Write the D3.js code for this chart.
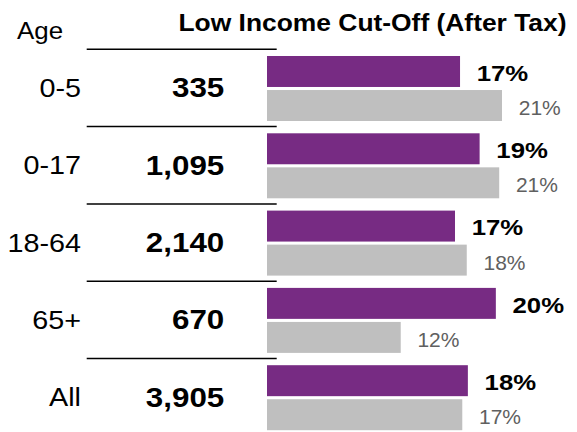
<!DOCTYPE html>
<html>
<head>
<meta charset="utf-8">
<script src="https://cdn.jsdelivr.net/npm/d3@7"></script>
<style>
  body { margin: 0; background: #fff; }
  text { font-family: "Liberation Sans", Arial, sans-serif; }
</style>
</head>
<body>
<div id="container"></div>
<script>
/* DATA */
const ages = ["0-5", "0-17", "18-64", "65+", "All"]
const counts = [335, 1095, 2140, 670, 3905]
// purple bars: low income cut-off (after tax) rate, %
const licoRates = [17.25, 19.0, 16.8, 20.45, 17.95]
// grey bars: comparison rate, %
const compareRates = [21.0, 20.75, 17.85, 11.95, 17.45]

const titleText = "Low Income Cut-Off (After Tax)"
const headerText = "Age"

/* CONSTANTS */
const width = 577,
  height = 432

const purple = "#772B83"
const grey = "#BFBFBF"

const rows = ages.map((a, i) => ({
  age: a,
  count: counts[i],
  lico: licoRates[i],
  compare: compareRates[i]
}))

const svg = d3.select("#container")
  .append("svg")
  .attr("width", width)
  .attr("height", height)

// + SCALES
const yScale = d3.scaleBand()
  .domain(ages)
  .range([49.3, 49.3 + 77.3 * ages.length])

const subScale = d3.scaleBand()
  .domain(["lico", "compare"])
  .range([6.7, 71.7])
  .paddingInner(0.09)

const xScale = d3.scaleLinear()
  .domain([0, 21])
  .range([267, 502])

const fmtCount = d3.format(",")
const fmtPct = d => d3.format(".0f")(d) + "%"

// the text in the picture looks a bit wide, so stretch it sideways
const stretch = (x, y, sx) => `translate(${x},${y}) scale(${sx},1)`

// + HEADER
svg.append("text")
  .attr("transform", stretch(17, 39, 1.08))
  .attr("font-size", 24)
  .text(headerText)

svg.append("text")
  .attr("transform", stretch(372.5, 31, 1.1))
  .attr("text-anchor", "middle")
  .attr("font-size", 24)
  .attr("font-weight", "bold")
  .text(titleText)

// + SEPARATOR LINES (top of each row)
svg.selectAll("line.sep")
  .data(rows)
  .join("line")
  .attr("class", "sep")
  .attr("x1", 86.7)
  .attr("x2", 276.7)
  .attr("y1", d => yScale(d.age))
  .attr("y2", d => yScale(d.age))
  .attr("stroke", "#000")
  .attr("stroke-width", 1.5)

const rowMid = d => yScale(d.age) + yScale.bandwidth() / 2

// + AGE LABELS
svg.selectAll("text.age")
  .data(rows)
  .join("text")
  .attr("class", "age")
  .attr("transform", d => stretch(81, rowMid(d) + 9, 1.15))
  .attr("text-anchor", "end")
  .attr("font-size", 25)
  .text(d => d.age)

// + COUNTS
svg.selectAll("text.count")
  .data(rows)
  .join("text")
  .attr("class", "count")
  .attr("transform", d => stretch(224.3, rowMid(d) + 9.5, 1.12))
  .attr("text-anchor", "end")
  .attr("font-size", 28)
  .attr("font-weight", "bold")
  .text(d => fmtCount(d.count))

// + BARS
svg.selectAll("rect.lico")
  .data(rows)
  .join("rect")
  .attr("class", "lico")
  .attr("x", xScale(0))
  .attr("y", d => yScale(d.age) + subScale("lico"))
  .attr("width", d => xScale(d.lico) - xScale(0))
  .attr("height", subScale.bandwidth())
  .attr("fill", purple)

svg.selectAll("rect.compare")
  .data(rows)
  .join("rect")
  .attr("class", "compare")
  .attr("x", xScale(0))
  .attr("y", d => yScale(d.age) + subScale("compare"))
  .attr("width", d => xScale(d.compare) - xScale(0))
  .attr("height", subScale.bandwidth())
  .attr("fill", grey)

// + BAR LABELS
svg.selectAll("text.licoLabel")
  .data(rows)
  .join("text")
  .attr("class", "licoLabel")
  .attr("transform", d => stretch(xScale(d.lico) + 16.7,
    yScale(d.age) + subScale("lico") + subScale.bandwidth() / 2 + 9.2, 1.12))
  .attr("font-size", 23)
  .attr("font-weight", "bold")
  .text(d => fmtPct(d.lico))

svg.selectAll("text.compareLabel")
  .data(rows)
  .join("text")
  .attr("class", "compareLabel")
  .attr("transform", d => stretch(xScale(d.compare) + 16.7,
    yScale(d.age) + subScale("compare") + subScale.bandwidth() / 2 + 9.5, 1.0))
  .attr("font-size", 21)
  .attr("fill", "#606060")
  .text(d => fmtPct(d.compare))
</script>
</body>
</html>
